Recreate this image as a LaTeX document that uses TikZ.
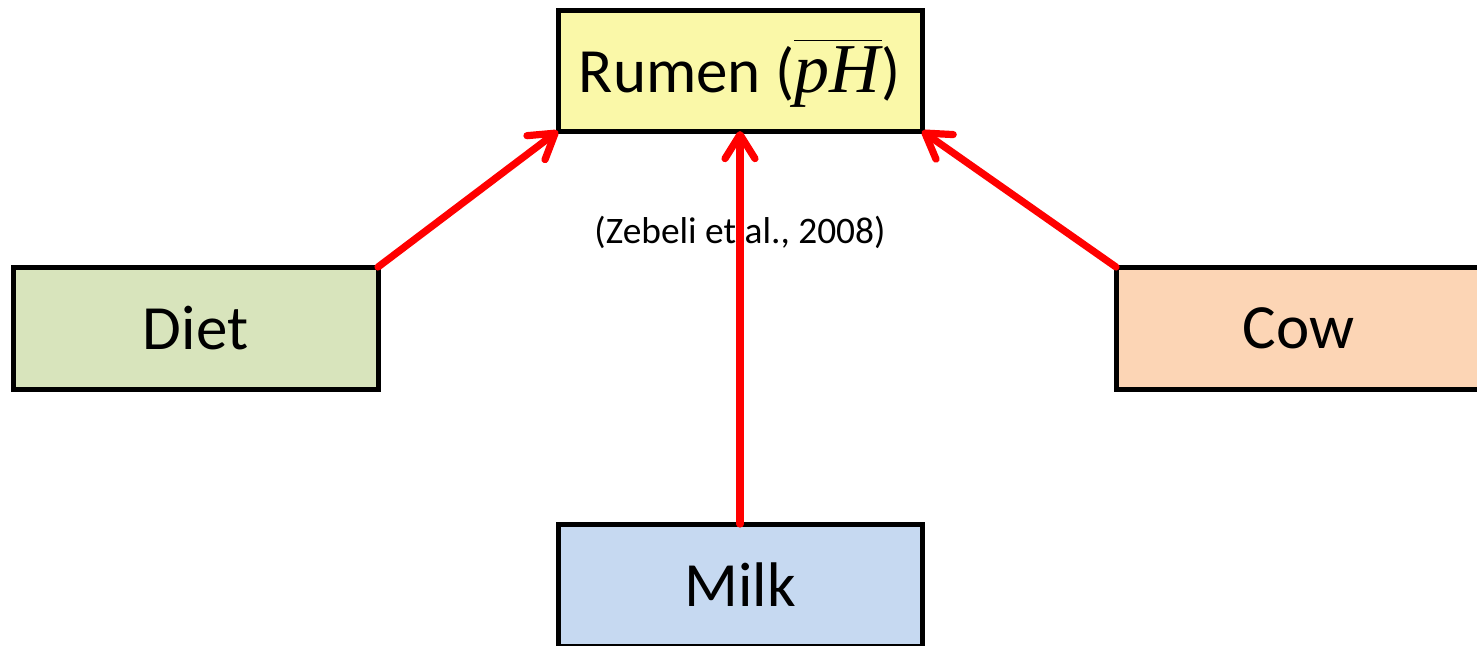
\documentclass[tikz,border=0pt]{standalone}
\usepackage{fontspec}
\setmainfont{Carlito}
\newfontfamily\phfont{Liberation Serif}
\usetikzlibrary{arrows.meta}
\definecolor{rumenfill}{RGB}{250,248,168}
\definecolor{dietfill}{RGB}{216,228,188}
\definecolor{cowfill}{RGB}{252,213,181}
\definecolor{milkfill}{RGB}{198,217,241}
\definecolor{arrred}{RGB}{255,0,0}
\tikzset{
  box/.style={draw=black, line width=2.5pt, rectangle, inner sep=0pt, outer sep=0pt,
    minimum width=182.5pt, minimum height=61pt,
    font=\fontsize{31.5}{38}\selectfont},
  arr/.style={draw=arrred, line width=3.6pt, line cap=round,
    -{Straight Barb[length=12pt, width=15pt, round]}},
  lbl/.style={font=\fontsize{18.7}{22}\selectfont, inner sep=0pt}
}
\begin{document}
\begin{tikzpicture}[x=0.5pt, y=-0.5pt]
\useasboundingbox (0,0) rectangle (1477,645);
\node[box, fill=rumenfill, minimum width=182pt, minimum height=60.5pt,
  text height=30pt, text depth=7.8pt] (rumen) at (740,70.5)
  {Rumen ($\overline{\hbox{\fontsize{35}{40}\selectfont\phfont\itshape pH\kern1pt\rule{0pt}{25pt}}}$)};
\node[box, fill=dietfill] (diet) at (195.5,328) {Diet};
\node[box, fill=cowfill] (cow) at (1298.5,328) {Cow};
\node[box, fill=milkfill, minimum width=182pt] (milk) at (740,585) {Milk};
\node[lbl] (ref) at (740,232) {(Zebeli et al., 2008)};
\draw[arr] (diet.north east) -- (rumen.south west);
\draw[arr] (milk.north) -- (rumen.south);
\draw[arr] (cow.north west) -- (rumen.south east);
\end{tikzpicture}
\end{document}
